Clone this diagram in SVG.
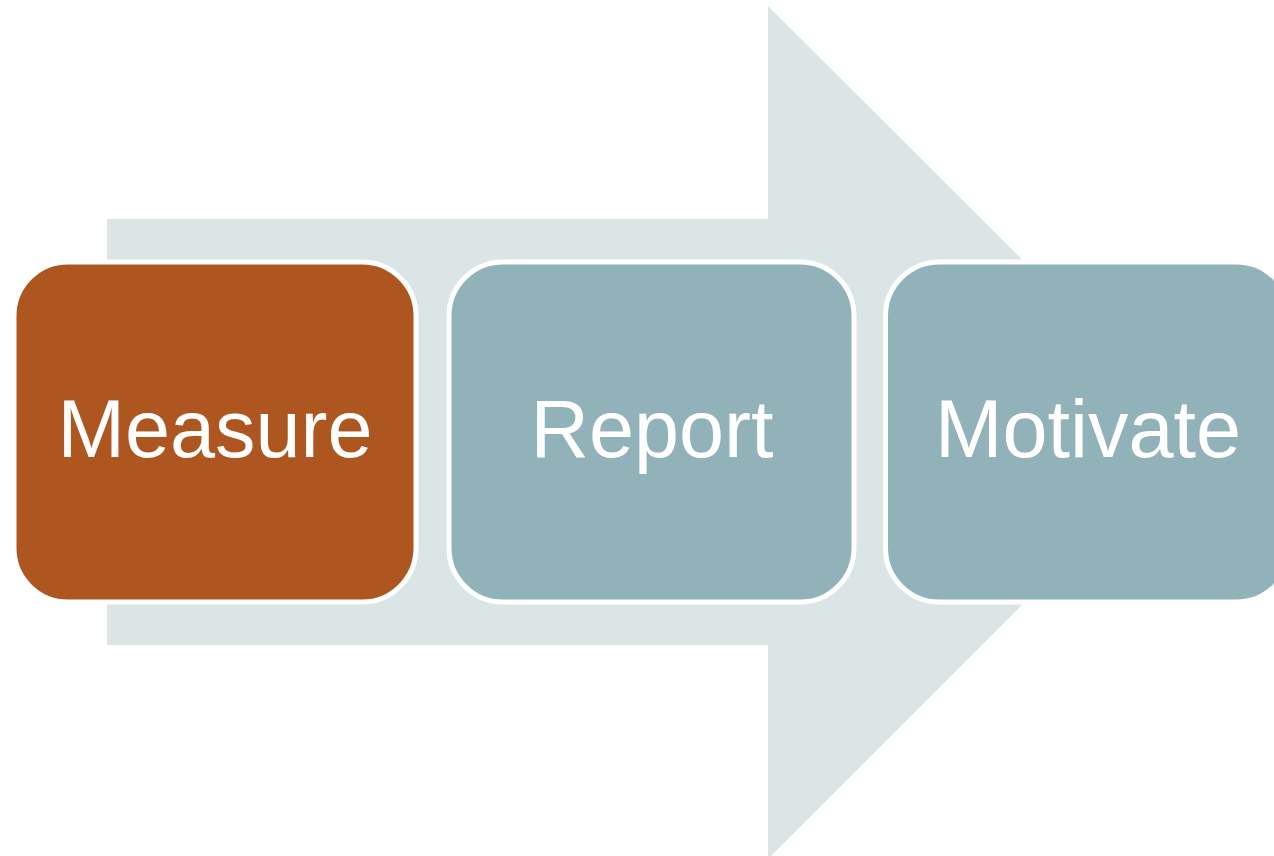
<svg xmlns="http://www.w3.org/2000/svg" width="1274" height="856" viewBox="0 0 1274 856">
<style>
.box{stroke:#ffffff;stroke-width:5}
.lbl{font-family:"Liberation Sans",Arial,sans-serif;font-size:81px;fill:#ffffff;text-anchor:middle}
</style>
<rect width="1274" height="856" fill="#ffffff"/>
<g id="arrow">
<polygon points="107,219 768,219 768,6 1195,432 768,859 768,645 107,645" fill="#DCE5E6"/>
</g>
<g id="measure">
<rect class="box" x="14" y="262" width="402" height="340" rx="54" ry="54" fill="#AD5620"/>
<text class="lbl" x="215" y="457">Measure</text>
</g>
<g id="report">
<rect class="box" x="449" y="262" width="405" height="340" rx="54" ry="54" fill="#91B2B8"/>
<text class="lbl" x="652" y="457">Report</text>
</g>
<g id="motivate">
<rect class="box" x="885.5" y="262" width="405" height="340" rx="54" ry="54" fill="#91B2B8"/>
<text class="lbl" x="1088" y="457">Motivate</text>
</g>
<g id="connectors"></g>
</svg>
